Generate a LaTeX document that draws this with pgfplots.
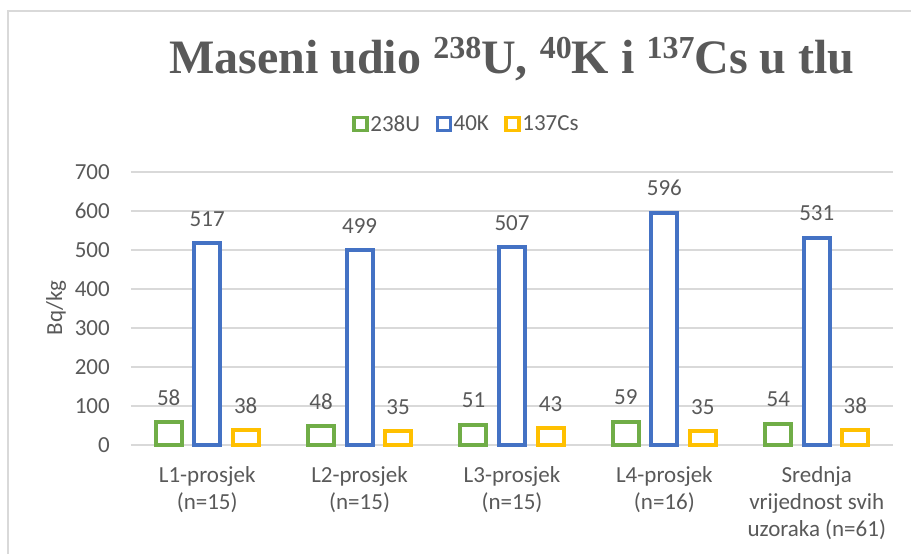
\documentclass[border=0pt]{standalone}
\usepackage{fontspec}
\setmainfont{Carlito}
\newfontfamily\titlefont{Liberation Serif}
\usepackage{pgfplots}
\pgfplotsset{compat=1.18}
\definecolor{cU}{HTML}{70AD47}
\definecolor{cK}{HTML}{4472C4}
\definecolor{cCs}{HTML}{FFC000}
\definecolor{txt}{HTML}{595959}
\definecolor{grd}{HTML}{D9D9D9}
\newcommand{\lab}{\fontsize{23}{27}\selectfont}
\newcommand{\up}[1]{\raisebox{15pt}{\fontsize{32}{32}\selectfont #1}}

\begin{document}
\begin{tikzpicture}
\useasboundingbox (0,0) rectangle (911pt,-554pt);
% chart frame (only top and left edge visible in the crop)
\draw[grd, line width=2pt] (8pt,-554pt) -- (8pt,-11pt) -- (911pt,-11pt);
\node[anchor=base, text=txt, font=\titlefont\bfseries\fontsize{48}{48}\selectfont]
  at (512pt,-73pt) {Maseni udio \up{238}U, \up{40}K i \up{137}Cs u tlu};

\begin{axis}[
  at={(131pt,-445pt)}, anchor=south west,
  scale only axis, width=762pt, height=273pt,
  ybar=12.5pt, bar width=26pt,
  legend image code/.code={\draw[#1, line width=3.5pt, fill=white] (0pt,-6.5pt) rectangle (13pt,6.5pt);},
  xmin=-0.5, xmax=4.5, ymin=0, ymax=700,
  ytick={0,100,...,700},
  xtick={0,1,2,3,4},
  xticklabels={{L1-prosjek\\(n=15)},{L2-prosjek\\(n=15)},{L3-prosjek\\(n=15)},{L4-prosjek\\(n=16)},{Srednja\\vrijednost svih\\uzoraka (n=61)}},
  xticklabel style={font=\lab, text=txt, align=center, anchor=north, inner sep=0pt, yshift=-21pt},
  yticklabel style={font=\lab, text=txt, anchor=east, inner sep=0pt, xshift=-21pt},
  /pgf/number format/assume math mode=true,
  major tick length=0pt,
  axis line style={draw=none},
  ymajorgrids, grid style={grd, line width=1.3pt},
  ylabel={Bq/kg},
  every axis y label/.style={at={(axis description cs:-0.0984,0.502)}, rotate=90, anchor=center, font=\lab, text=txt},
  nodes near coords,
  every node near coord/.append style={font=\lab, text=txt, inner sep=0pt, yshift=15pt},
  clip=false,
  legend columns=-1,
  legend style={at={(axis description cs:0.44,1.176)}, anchor=center, draw=none, font=\lab, text=txt,
    nodes={inner sep=1.5pt}, /tikz/every even column/.append style={column sep=14pt}},
]
\addplot[draw=cU, fill=white, line width=4pt] coordinates {(0,58) (1,48) (2,51) (3,59) (4,54)};
\addplot[draw=cK, fill=white, line width=4pt] coordinates {(0,517) (1,499) (2,507) (3,596) (4,531)};
\addplot[draw=cCs, fill=white, line width=4pt] coordinates {(0,38) (1,35) (2,43) (3,35) (4,38)};
\legend{238U,40K,137Cs}
\end{axis}
\end{tikzpicture}
\end{document}
